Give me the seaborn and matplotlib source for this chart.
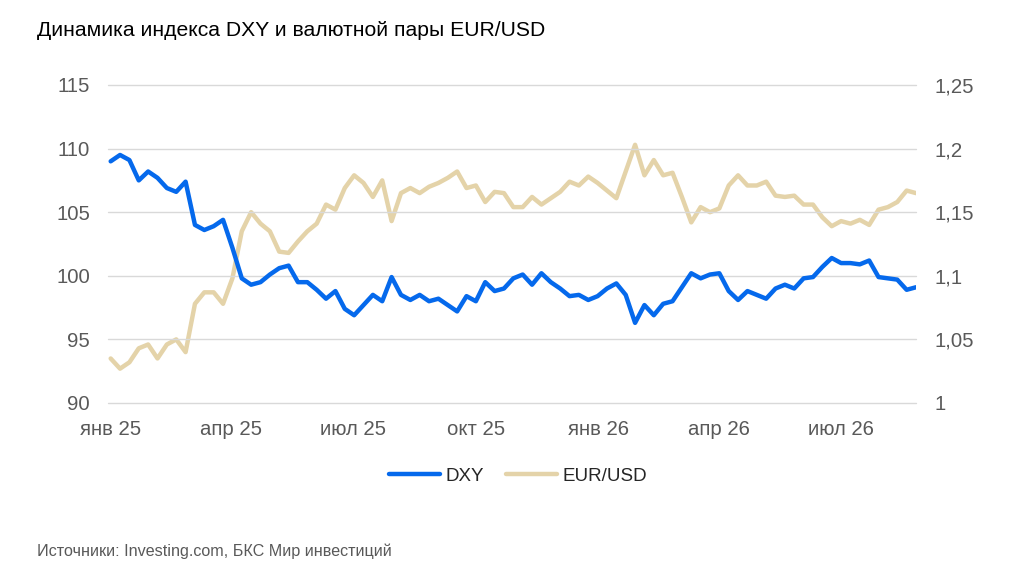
import pandas as pd
import numpy as np
import seaborn as sns
import matplotlib.pyplot as plt
import matplotlib.dates as mdates
import matplotlib.ticker as ticker

# weekly readings
dates = pd.date_range("2025-01-01", periods=87, freq="7D")

dxy = [
    109.0, 109.5, 109.1, 107.5, 108.2, 107.7, 106.9, 106.6, 107.4, 104.0,
    103.6, 103.9, 104.4, 102.2, 99.8, 99.3, 99.5, 100.1, 100.6, 100.8,
    99.5, 99.5, 98.9, 98.2, 98.8, 97.4, 96.9, 97.7, 98.5, 98.0,
    99.9, 98.5, 98.1, 98.5, 98.0, 98.2, 97.7, 97.2, 98.4, 98.0,
    99.5, 98.8, 99.0, 99.8, 100.1, 99.3, 100.2, 99.5, 99.0, 98.4,
    98.5, 98.1, 98.4, 99.0, 99.4, 98.5, 96.3, 97.7, 96.9, 97.8,
    98.0, 99.1, 100.2, 99.8, 100.1, 100.2, 98.8, 98.1, 98.8, 98.5,
    98.2, 99.0, 99.3, 99.0, 99.8, 99.9, 100.7, 101.4, 101.0, 101.0,
    100.9, 101.2, 99.9, 99.8, 99.7, 98.9, 99.1,
]

eurusd = [
    1.035, 1.027, 1.032, 1.043, 1.046, 1.035, 1.046, 1.050, 1.040, 1.078,
    1.087, 1.087, 1.078, 1.098, 1.135, 1.150, 1.141, 1.135, 1.119, 1.118,
    1.127, 1.135, 1.141, 1.156, 1.152, 1.169, 1.179, 1.173, 1.162, 1.175,
    1.143, 1.165, 1.169, 1.165, 1.170, 1.173, 1.177, 1.182, 1.169, 1.171,
    1.158, 1.166, 1.165, 1.154, 1.154, 1.162, 1.156, 1.161, 1.166, 1.174,
    1.171, 1.178, 1.173, 1.167, 1.161, 1.182, 1.203, 1.179, 1.191, 1.179,
    1.181, 1.162, 1.142, 1.154, 1.150, 1.153, 1.171, 1.179, 1.171, 1.171,
    1.174, 1.163, 1.162, 1.163, 1.156, 1.156, 1.146, 1.139, 1.143, 1.141,
    1.144, 1.140, 1.152, 1.154, 1.158, 1.167, 1.165,
]

left_ticks = [90, 95, 100, 105, 110, 115]
right_ticks = [1.0, 1.05, 1.1, 1.15, 1.2, 1.25]
month_names = {1: "янв", 4: "апр", 7: "июл", 10: "окт"}

title = "Динамика индекса DXY и валютной пары EUR/USD"
source = "Источники: Investing.com, БКС Мир инвестиций"

blue = "#0569EC"
sand = "#E4D3A9"
grey_text = "#595959"

df = pd.DataFrame({"date": dates, "DXY": dxy, "EUR/USD": eurusd})

sns.set_theme(style="white")
plt.rcParams["font.family"] = ["Liberation Sans", "DejaVu Sans"]

fig = plt.figure(figsize=(10.24, 5.74), dpi=100)
ax = fig.add_axes([108 / 1024, 1 - 403 / 574, (916 - 108) / 1024, (403 - 85) / 574])
ax2 = ax.twinx()

sns.lineplot(data=df, x="date", y="EUR/USD", ax=ax2, color=sand, linewidth=3.2, label="EUR/USD")
sns.lineplot(data=df, x="date", y="DXY", ax=ax, color=blue, linewidth=3.2, label="DXY")
# blue on top of sand
ax.set_zorder(ax2.get_zorder() + 1)
ax.patch.set_visible(False)

ax.set_ylim(90, 115)
ax2.set_ylim(1.0, 1.25)
ax.set_yticks(left_ticks)
ax2.set_yticks(right_ticks)
ax2.yaxis.set_major_formatter(ticker.FuncFormatter(lambda v, pos: f"{v:g}".replace(".", ",")))
ax.set_xlim(pd.Timestamp("2024-12-30"), dates[-1])

ax.xaxis.set_major_locator(mdates.MonthLocator(bymonth=[1, 4, 7, 10]))
ax.xaxis.set_major_formatter(
    ticker.FuncFormatter(lambda v, pos: f"{month_names[mdates.num2date(v).month]} {mdates.num2date(v):%y}")
)

ax.grid(axis="y", color="#D9D9D9", linewidth=1)
ax.grid(axis="x", visible=False)
ax2.grid(False)
for gl in ax.get_ygridlines():
    gl.set_clip_on(False)
for a in (ax, ax2):
    for s in a.spines.values():
        s.set_visible(False)
    a.set_xlabel("")
    a.set_ylabel("")
    a.tick_params(length=0, labelsize=14.7, labelcolor=grey_text)
ax.tick_params(axis="y", pad=13)
ax2.tick_params(axis="y", pad=13)
ax.tick_params(axis="x", pad=12)

h1, l1 = ax.get_legend_handles_labels()
h2, l2 = ax2.get_legend_handles_labels()
ax.get_legend().remove()
ax2.get_legend().remove()
fig.legend(h1 + h2, l1 + l2, loc="center", bbox_to_anchor=(518 / 1024, 1 - 476 / 574),
           ncol=2, frameon=False, fontsize=13.5, handlelength=2.7, handletextpad=0.3,
           columnspacing=1.2)

fig.text(37 / 1024, 1 - 31 / 574, title, fontsize=15.2, color="black", va="center")
fig.text(37 / 1024, 1 - 551 / 574, source, fontsize=11.6, color=grey_text, va="center")

fig.savefig("out.png", dpi=100)
